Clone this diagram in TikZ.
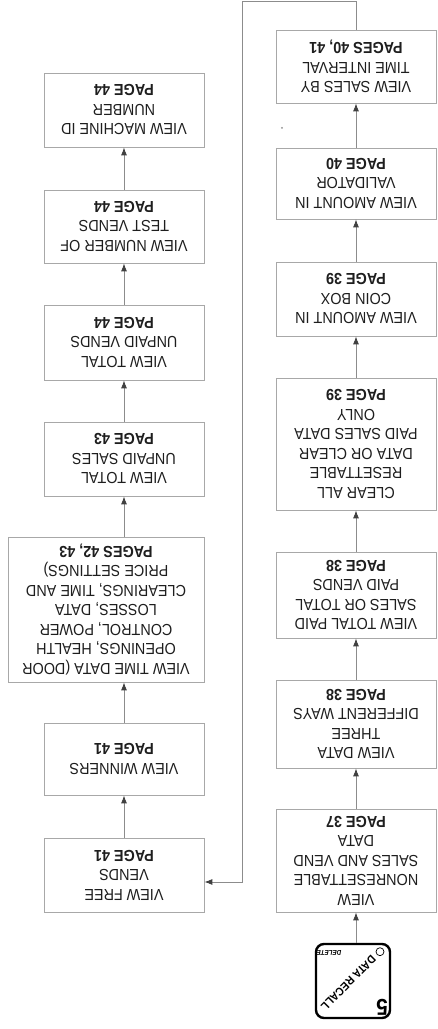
\documentclass[tikz,border=0pt]{standalone}
\usepackage{fontspec}
\setmainfont{Liberation Sans}[FakeStretch=0.9]
\usetikzlibrary{arrows.meta}
\definecolor{boxline}{HTML}{A8A8A8}
\definecolor{conn}{HTML}{8C8C8C}
\definecolor{tipc}{HTML}{404040}
\definecolor{txt}{HTML}{1E1E1E}
\begin{document}
\begin{tikzpicture}[x=1pt,y=-1pt,rotate=180,transform shape,
  box/.style={draw=boxline,line width=0.8pt,align=center,inner sep=0pt,text=txt,
    font=\fontsize{16}{19.5}\selectfont,minimum width=160pt},
  arr/.style={draw=conn,line width=0.8pt,-{Latex[length=8pt,width=6pt,color=tipc]}},
  conline/.style={draw=conn,line width=0.8pt}]
\useasboundingbox (0,0) rectangle (437,1029);

% right-hand chain (upright: left column)
\node[box,minimum height=103pt] (r1) at (81,168.5) {VIEW\\NONRESETTABLE\\SALES AND VEND\\DATA\\\textbf{PAGE 37}};
\node[box,minimum height=88pt] (r2) at (81,305) {VIEW DATA\\THREE\\DIFFERENT WAYS\\\textbf{PAGE 38}};
\node[box,minimum height=86pt] (r3) at (81,434) {VIEW TOTAL PAID\\SALES OR TOTAL\\PAID VENDS\\\textbf{PAGE 38}};
\node[box,minimum height=132pt] (r4) at (81,585) {CLEAR ALL\\RESETTABLE\\DATA OR CLEAR\\PAID SALES DATA\\ONLY\\\textbf{PAGE 39}};
\node[box,minimum height=74pt] (r5) at (81,730) {VIEW AMOUNT IN\\COIN BOX\\\textbf{PAGE 39}};
\node[box,minimum height=71pt] (r6) at (81,845.5) {VIEW AMOUNT IN\\VALIDATOR\\\textbf{PAGE 40}};
\node[box,minimum height=73pt] (r7) at (81,962.5) {VIEW SALES BY\\TIME INTERVAL\\\textbf{PAGES 40, 41}};

% left-hand chain (upright: right column)
\node[box,minimum height=74pt] (g) at (313,154) {VIEW FREE\\VENDS\\\textbf{PAGE 41}};
\node[box,minimum height=72pt] (f) at (313,270) {VIEW WINNERS\\\textbf{PAGE 41}};
\node[box,minimum height=145pt,minimum width=196pt] (e) at (331,419.5) {VIEW TIME DATA (DOOR\\OPENINGS, HEALTH\\CONTROL, POWER\\LOSSES, DATA\\CLEARINGS, TIME AND\\PRICE SETTINGS)\\\textbf{PAGES 42, 43}};
\node[box,minimum height=74pt] (d) at (313,570) {VIEW TOTAL\\UNPAID SALES\\\textbf{PAGE 43}};
\node[box,minimum height=75pt] (c) at (313,686.5) {VIEW TOTAL\\UNPAID VENDS\\\textbf{PAGE 44}};
\node[box,minimum height=73pt] (b) at (313,802.5) {VIEW NUMBER OF\\TEST VENDS\\\textbf{PAGE 44}};
\node[box,minimum height=74pt] (a) at (313,919) {VIEW MACHINE ID\\NUMBER\\\textbf{PAGE 44}};

% DATA RECALL key
\node[draw=black,line width=2.4pt,rounded corners=8pt,minimum size=74pt,inner sep=0pt] (icon) at (84,48) {};
\node[font=\fontsize{23}{23}\selectfont\bfseries,inner sep=0pt] (five) at (55,22) {5};
\node[font=\fontsize{11.5}{11.5}\selectfont\bfseries,rotate=45,inner sep=0pt] (recall) at (88.5,46) {DATA RECALL};
\node[draw=black,circle,line width=0.7pt,minimum size=8pt,inner sep=0pt] (led) at (57,77.3) {};
\node[font=\fontsize{7}{7}\selectfont\bfseries\itshape,inner sep=0pt] (del) at (108,76.5) {DELETE};

% connectors
\draw[arr] (r1.north |- icon.south) -- (r1.north);
\draw[arr] (r1.south) -- (r2.north);
\draw[arr] (r2.south) -- (r3.north);
\draw[arr] (r3.south) -- (r4.north);
\draw[arr] (r4.south) -- (r5.north);
\draw[arr] (r5.south) -- (r6.north);
\draw[arr] (r6.south) -- (r7.north);

\coordinate (c1) at (81,1028);
\coordinate (c2) at (195,1028);
\coordinate (c3) at (195,147);
\draw[arr] (r7.south) -- (c1) -- (c2) -- (c3) -- (c3 -| g.west);

\draw[arr] (g.south) -- (f.north);
\draw[arr] (f.south) -- (f.south |- e.north);
\draw[arr] (e.south -| d.north) -- (d.north);
\draw[arr] (d.south) -- (c.north);
\draw[arr] (c.south) -- (b.north);
\draw[arr] (b.south) -- (a.north);

\fill[conn] (155,901) circle (1pt);
\end{tikzpicture}
\end{document}
